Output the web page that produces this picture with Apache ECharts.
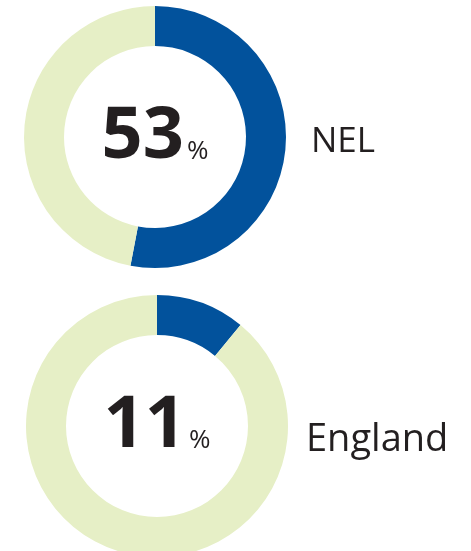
<!DOCTYPE html>
<html>
<head>
<meta charset="utf-8">
<script src="https://cdn.jsdelivr.net/npm/echarts@6/dist/echarts.min.js"></script>
<style>
  html, body { margin: 0; padding: 0; background: #fff; }
  #chart { width: 471px; height: 551px; }
</style>
</head>
<body>
<div id="chart"></div>
<script>
const regions = ['NEL', 'England']
const shares = [53, 11]
const centers = [[155, 137], [157, 426]]
const labelPos = [[311, 142], [306, 440]]

const BLUE = '#02529c'
const PALE = '#e6efc6'
const INK = '#231f20'
const FONT = '"Open Sans", "Noto Sans", sans-serif'

const chart = echarts.init(document.getElementById('chart'))

const series = regions.map((name, i) => ({
  type: 'pie',
  name: name,
  center: centers[i],
  radius: [91, 131],
  startAngle: 90,
  clockwise: true,
  silent: true,
  animation: false,
  labelLine: { show: false },
  data: [
    {
      value: shares[i],
      name: name,
      itemStyle: { color: BLUE },
      label: {
        show: true,
        position: 'center',
        formatter: '{big|' + shares[i] + '}{pct|%}',
        rich: {
          big: { fontSize: 72, fontWeight: 'bold', color: INK, fontFamily: FONT, lineHeight: 76, verticalAlign: 'bottom', padding: [0, 0, 2, 0] },
          pct: { fontSize: 26, color: INK, fontFamily: FONT, lineHeight: 28, verticalAlign: 'bottom', padding: [0, 0, 10, 3] }
        }
      }
    },
    {
      value: 100 - shares[i],
      name: 'rest',
      itemStyle: { color: PALE },
      label: { show: false }
    }
  ]
}))

chart.setOption({
  backgroundColor: '#fff',
  series: series,
  graphic: regions.map((name, i) => ({
    type: 'text',
    x: labelPos[i][0],
    y: labelPos[i][1],
    style: {
      text: name,
      fill: INK,
      font: (i === 0 ? 35 : 38) + 'px ' + FONT,
      textVerticalAlign: 'middle'
    }
  }))
})
</script>
</body>
</html>
